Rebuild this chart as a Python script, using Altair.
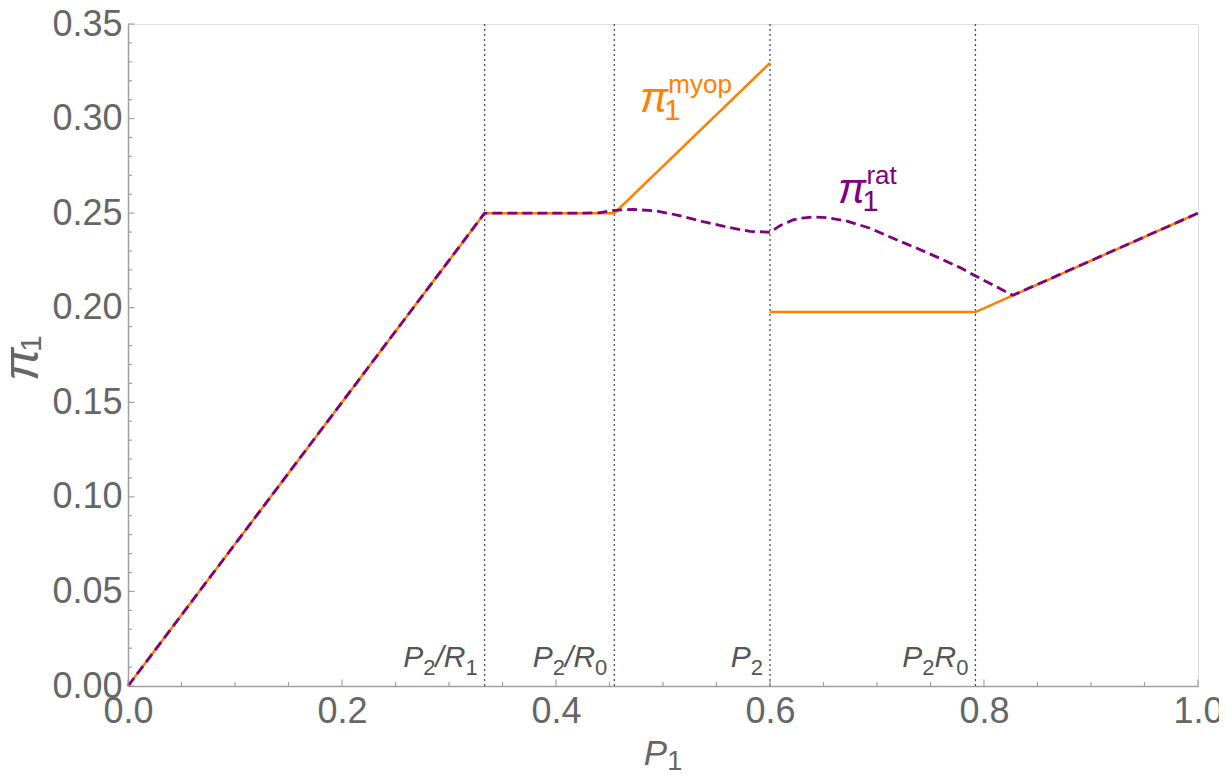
import altair as alt
import pandas as pd

# ---------------- data ----------------
myop_seg = [0, 0, 0, 0, 1, 1, 1]
myop_x = [0.0, 0.3333, 0.4545, 0.6000, 0.6000, 0.7920, 1.0000]
myop_y = [0.0, 0.2500, 0.2500, 0.3294, 0.1977, 0.1977, 0.2500]

rat_x = [0.0, 0.3333, 0.4200, 0.4400, 0.4551, 0.4720, 0.4944, 0.5131, 0.5374,
         0.5626, 0.5813, 0.6000, 0.6093, 0.6215, 0.6300, 0.6402, 0.6533, 0.6720,
         0.6935, 0.7150, 0.7374, 0.7589, 0.7776, 0.7935, 0.8084, 0.8270, 1.0000]
rat_y = [0.0, 0.2500, 0.2500, 0.2502, 0.2515, 0.2520, 0.2511, 0.2490, 0.2455,
         0.2423, 0.2404, 0.2399, 0.2434, 0.2464, 0.2474, 0.2480, 0.2476, 0.2458,
         0.2420, 0.2367, 0.2314, 0.2261, 0.2212, 0.2164, 0.2120, 0.2066, 0.2500]

vline_x = [0.3333, 0.4545, 0.6000, 0.7920]
# "_" prefix = subscript piece
vline_labels = [["P", "_2", "/R", "_1"],
                ["P", "_2", "/R", "_0"],
                ["P", "_2"],
                ["P", "_2", "R", "_0"]]
vline_label_y = 0.0102

curve_label_x = [0.4785, 0.6636]
curve_label_y = [0.3035, 0.2554]
curve_label_sup = ["myop", "rat"]

x_title_pos = (0.5, -0.0420)
y_title_pos = (-0.0841, 0.1613)

x_tick_labels = [0.0, 0.2, 0.4, 0.6, 0.8, 1.0]
x_minor = [0.05, 0.10, 0.15, 0.25, 0.30, 0.35, 0.45, 0.50, 0.55, 0.65, 0.70,
           0.75, 0.85, 0.90, 0.95]
y_tick_labels = [0.00, 0.05, 0.10, 0.15, 0.20, 0.25, 0.30, 0.35]
y_minor = [0.01, 0.02, 0.03, 0.04, 0.06, 0.07, 0.08, 0.09, 0.11, 0.12, 0.13,
           0.14, 0.16, 0.17, 0.18, 0.19, 0.21, 0.22, 0.23, 0.24, 0.26, 0.27,
           0.28, 0.29, 0.31, 0.32, 0.33, 0.34]

# ---------------- styling ----------------
W, H = 1070, 662
FONT = "Liberation Sans"
ORANGE = "#FF8000"
PURPLE = "#800080"
AXIS_GRAY = "#a0a0a0"
TICK_TEXT = "#666666"
LABEL_GRAY = "#555555"

xscale = alt.Scale(domain=[0, 1], nice=False, zero=False)
yscale = alt.Scale(domain=[0, 0.35], nice=False, zero=False)
xaxis = alt.Axis(values=x_tick_labels, format=".1f", tickSize=0, labelPadding=8,
                 labelFontSize=36, labelFont=FONT, labelColor=TICK_TEXT,
                 domainColor=AXIS_GRAY, domainWidth=1.5, grid=False,
                 labelFlush=False, labelOverlap=False)
yaxis = alt.Axis(values=y_tick_labels, format=".2f", tickSize=0, labelPadding=6,
                 labelFontSize=36, labelFont=FONT, labelColor=TICK_TEXT,
                 domainColor=AXIS_GRAY, domainWidth=1.5, grid=False,
                 labelFlush=False, labelOverlap=False)


def X(f):
    return alt.X(f, type="quantitative", scale=xscale, axis=xaxis, title=None)


def Y(f):
    return alt.Y(f, type="quantitative", scale=yscale, axis=yaxis, title=None)


# approximate advance widths (em) of Liberation Sans
ADV = {"P": 0.667, "R": 0.722, "/": 0.278, "0": 0.556, "1": 0.556, "2": 0.556,
       "π": 0.58, "m": 0.833, "y": 0.5, "o": 0.556, "p": 0.556, "r": 0.333,
       "a": 0.556, "t": 0.278}


def tw(s, size):
    return sum(ADV.get(c, 0.55) for c in s) * size


def piece(x, y, text, dx, dy, size, style, color, angle=0):
    df = pd.DataFrame({"x": [x], "y": [y], "t": [text]})
    return alt.Chart(df).mark_text(
        align="left", baseline="alphabetic", dx=dx, dy=dy, fontSize=size,
        fontStyle=style, font=FONT, color=color, angle=angle
    ).encode(x=X("x"), y=Y("y"), text="t:N")


layers = []

# dotted vertical lines
vdf = pd.DataFrame({"x": vline_x})
layers.append(alt.Chart(vdf).mark_rule(color="#4d4d4d", strokeWidth=1.3,
                                       strokeDash=[2, 3]).encode(x=X("x")))

# myopic profit (solid orange, two pieces)
odf = pd.DataFrame({"x": myop_x, "y": myop_y, "seg": myop_seg,
                    "i": list(range(len(myop_x)))})
layers.append(alt.Chart(odf).mark_line(color=ORANGE, strokeWidth=2.5).encode(
    x=X("x"), y=Y("y"), detail="seg:N", order="i:Q"))

# rational profit (dashed purple)
rdf = pd.DataFrame({"x": rat_x, "y": rat_y, "i": list(range(len(rat_x)))})
layers.append(alt.Chart(rdf).mark_line(color=PURPLE, strokeWidth=2.8,
                                       strokeDash=[10, 5]).encode(
    x=X("x"), y=Y("y"), order="i:Q"))

# inward ticks
layers.append(alt.Chart(pd.DataFrame({"v": y_tick_labels})).mark_rule(
    color=AXIS_GRAY, strokeWidth=1.2).encode(y=Y("v"), x=alt.value(0), x2=alt.value(6.5)))
layers.append(alt.Chart(pd.DataFrame({"v": y_minor})).mark_rule(
    color=AXIS_GRAY, strokeWidth=1.2).encode(y=Y("v"), x=alt.value(0), x2=alt.value(4)))
layers.append(alt.Chart(pd.DataFrame({"v": x_tick_labels})).mark_rule(
    color=AXIS_GRAY, strokeWidth=1.2).encode(x=X("v"), y=alt.value(H), y2=alt.value(H - 6.5)))
layers.append(alt.Chart(pd.DataFrame({"v": x_minor})).mark_rule(
    color=AXIS_GRAY, strokeWidth=1.2).encode(x=X("v"), y=alt.value(H), y2=alt.value(H - 4)))

# labels of vertical lines (right aligned against the line)
MAIN, SUB, GAP = 30, 22, 7
for xv, parts in zip(vline_x, vline_labels):
    total = sum(tw(p[1:], SUB) if p.startswith("_") else tw(p, MAIN) for p in parts)
    cur = -GAP - total
    for p in parts:
        if p.startswith("_"):
            layers.append(piece(xv, vline_label_y, p[1:], cur, 8, SUB, "normal", LABEL_GRAY))
            cur += tw(p[1:], SUB)
        else:
            layers.append(piece(xv, vline_label_y, p, cur, 0, MAIN, "italic", LABEL_GRAY))
            cur += tw(p, MAIN)

# curve labels  π_1^{myop}, π_1^{rat}
PI, PSUB, PSUP = 42, 29, 26
for xv, yv, sup, col in zip(curve_label_x, curve_label_y, curve_label_sup, [ORANGE, PURPLE]):
    layers.append(piece(xv, yv, "π", 0, 0, PI, "italic", col))
    layers.append(piece(xv, yv, "1", tw("π", PI), 8, PSUB, "normal", col))
    layers.append(piece(xv, yv, sup, tw("π", PI) + 4, -19, PSUP, "normal", col))

# axis titles
TM, TS = 35, 27
xt_w = tw("P", TM) + tw("1", TS)
layers.append(piece(x_title_pos[0], x_title_pos[1], "P", -xt_w / 2, 0, TM, "italic", TICK_TEXT))
layers.append(piece(x_title_pos[0], x_title_pos[1], "1", -xt_w / 2 + tw("P", TM), 5, TS,
                    "normal", TICK_TEXT))
YPI, YSUB = 50, 30
layers.append(piece(y_title_pos[0], y_title_pos[1], "π", 0, 0, YPI, "italic", TICK_TEXT, angle=270))
layers.append(piece(y_title_pos[0], y_title_pos[1], "1", tw("π", YPI), 3, YSUB, "normal",
                    TICK_TEXT, angle=270))

chart = alt.layer(*layers).properties(
    width=W, height=H,
    autosize=alt.AutoSizeParams(type="none"),
    padding={"left": 120, "top": 16, "right": 21, "bottom": 84},
).configure_view(stroke=None).configure(background="white")

chart.save("out.html", embed_options={"renderer": "svg", "actions": False})
